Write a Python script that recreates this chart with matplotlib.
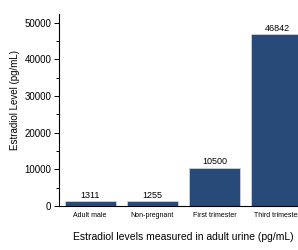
import matplotlib
matplotlib.use('Agg')
import matplotlib.pyplot as plt
from matplotlib.ticker import MultipleLocator

plt.rcParams['font.family'] = ['Liberation Sans', 'DejaVu Sans']

# Data
groups = ['Adult male', 'Non-pregnant', 'First trimester', 'Third trimester']
levels = [1311, 1255, 10500, 46842]

fig = plt.figure(figsize=(2.98, 2.5), dpi=100)
ax = fig.add_axes([0.198, 0.176, 0.836, 0.768])

x = range(len(groups))
bars = ax.bar(x, levels, width=0.82, color='#284a78', edgecolor='#c9d2de', linewidth=0.6)

for bar, v in zip(bars, levels):
    ax.text(bar.get_x() + bar.get_width() / 2, bar.get_height() + 300, str(v),
            ha='center', va='bottom', fontsize=6.5)

ax.set_xlim(-0.5, 3.5)
ax.set_ylim(0, 52400)
ax.set_xticks(list(x))
ax.set_xticklabels(groups, fontsize=5)
ax.yaxis.set_major_locator(MultipleLocator(10000))
ax.yaxis.set_minor_locator(MultipleLocator(5000))
ax.tick_params(axis='y', which='major', length=3.5, width=0.7, labelsize=7, pad=2)
ax.tick_params(axis='y', which='minor', length=2, width=0.7)
ax.tick_params(axis='x', length=0, pad=4)

for side in ['top', 'right']:
    ax.spines[side].set_visible(False)
ax.spines['left'].set_linewidth(0.8)
ax.spines['bottom'].set_linewidth(0.8)

ax.set_ylabel('Estradiol Level (pg/mL)', fontsize=7)
ax.yaxis.set_label_coords(-0.157, 0.55)
ax.set_xlabel('Estradiol levels measured in adult urine (pg/mL)', fontsize=7.5)
ax.xaxis.set_label_coords(0.5, -0.135)

fig.savefig('out.png', dpi=100)
